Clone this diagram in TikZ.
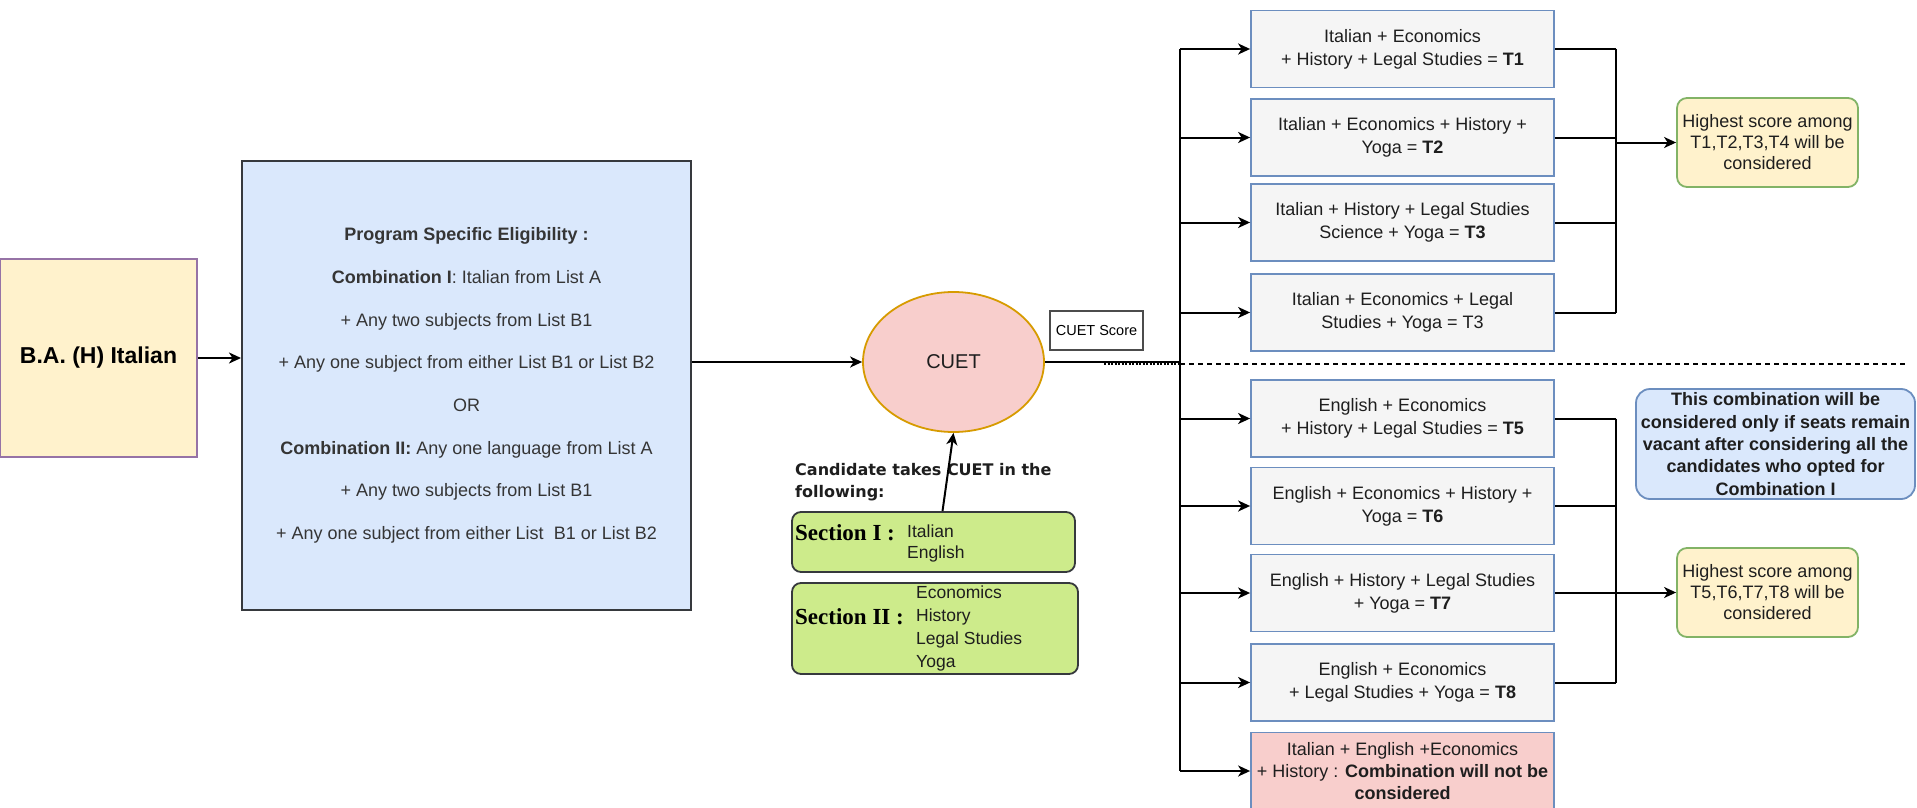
\documentclass[tikz,border=0pt]{standalone}
\usepackage{fontspec}
\setmainfont{Liberation Sans}
\newfontfamily\dvfont{DejaVu Sans}
\newfontfamily\serifbf{Liberation Serif}
\usetikzlibrary{arrows.meta,shapes.geometric}
\definecolor{yelfill}{HTML}{FFF2CC}
\definecolor{purpbord}{HTML}{9673A6}
\definecolor{bluefill}{HTML}{DAE8FC}
\definecolor{bluebord}{HTML}{6C8EBF}
\definecolor{darkbord}{HTML}{36393D}
\definecolor{redfill}{HTML}{F8CECC}
\definecolor{orbord}{HTML}{D79B00}
\definecolor{grayfill}{HTML}{F5F5F5}
\definecolor{greenbord}{HTML}{82B366}
\definecolor{limefill}{HTML}{CDEB8B}
\definecolor{txt}{HTML}{1E1E1E}
\tikzset{
  arr/.style={-{Stealth[length=12pt,width=11pt,inset=3.5pt]}, line width=2pt, draw=black},
  conn/.style={line width=2pt, draw=black},
  tbox/.style={draw=bluebord, fill=grayfill, line width=1.8pt, minimum width=303pt, minimum height=77pt, align=center, inner sep=0pt, text=txt, font=\fontsize{18}{23}\selectfont},
  hsbox/.style={draw=greenbord, fill=yelfill, line width=1.8pt, rounded corners=10pt, minimum width=181pt, minimum height=89pt, align=center, inner sep=0pt, text=txt, font=\fontsize{18}{21}\selectfont},
  secbox/.style={draw=darkbord, fill=limefill, line width=1.8pt, rounded corners=9pt, inner sep=0pt},
  itemtxt/.style={anchor=west, align=left, inner sep=0pt, text=txt},
  seclabel/.style={anchor=west, inner sep=0pt, font=\serifbf\bfseries\fontsize{23}{26}\selectfont},
}
\begin{document}
\begin{tikzpicture}[x=1pt,y=-1pt]
\useasboundingbox (0,0) rectangle (1917,808);
\fill[white] (0,0) rectangle (1917,808);

% left boxes
\node[draw=purpbord, fill=yelfill, line width=1.8pt, minimum width=197pt, minimum height=198pt, inner sep=0pt, font=\bfseries\fontsize{23}{27}\selectfont] (ba) at (98.5,358) {B.A. (H) Italian};

\node[draw=darkbord, fill=bluefill, line width=2pt, minimum width=449pt, minimum height=449pt, inner sep=0pt, align=center, text=txt!90, font=\fontsize{18}{42.7}\selectfont] (elig) at (466.5,385.5) {%
\textbf{Program Specific Eligibility :}\\
\textbf{Combination I}: Italian from List A\\
+ Any two subjects from List B1\\
+ Any one subject from either List B1 or List B2\\
OR\\
\textbf{Combination II:} Any one language from List A\\
+ Any two subjects from List B1\\
+ Any one subject from either List\ \ B1 or List B2};

% CUET
\node[ellipse, draw=orbord, fill=redfill, line width=1.8pt, minimum width=181pt, minimum height=140pt, inner sep=0pt, text=txt, font=\fontsize{20}{23}\selectfont] (cuet) at (953.5,362) {CUET};

\node[draw=black!70, fill=white, line width=1.5pt, minimum width=93pt, minimum height=39pt, inner sep=0pt, font=\fontsize{14.5}{17}\selectfont] (score) at (1096.5,330.5) {CUET Score};

% candidate text and sections
\node[anchor=west, align=left, inner sep=0pt, text=txt, font=\dvfont\bfseries\fontsize{16}{22}\selectfont] (cand) at (795,482) {Candidate takes CUET in the\\following:};

\node[secbox, minimum width=283pt, minimum height=60pt] (sec1) at (933.5,542) {};
\node[seclabel] (sec1l) at (795,533) {Section I :};
\node[itemtxt, font=\fontsize{17.5}{21}\selectfont] (sec1i) at (907,543.5) {Italian\\English};

\node[secbox, minimum width=286pt, minimum height=91pt] (sec2) at (935,628.5) {};
\node[seclabel] (sec2l) at (795,617) {Section II :};
\node[itemtxt, font=\fontsize{17.5}{23}\selectfont] (sec2i) at (916,628.5) {Economics\\History\\Legal Studies\\Yoga};

% combination boxes
\node[tbox] (t1) at (1402.5,49) {Italian + Economics\\+ History + Legal Studies = \textbf{T1}};
\node[tbox] (t2) at (1402.5,137.5) {Italian + Economics + History +\\Yoga = \textbf{T2}};
\node[tbox] (t3) at (1402.5,222.5) {Italian + History + Legal Studies\\Science + Yoga = \textbf{T3}};
\node[tbox] (t4) at (1402.5,312.5) {Italian + Economics + Legal\\Studies + Yoga = T3};
\node[tbox] (t5) at (1402.5,418.5) {English + Economics\\+ History + Legal Studies = \textbf{T5}};
\node[tbox] (t6) at (1402.5,506) {English + Economics + History +\\Yoga = \textbf{T6}};
\node[tbox] (t7) at (1402.5,593) {English + History + Legal Studies\\+ Yoga = \textbf{T7}};
\node[tbox] (t8) at (1402.5,682.5) {English + Economics\\+ Legal Studies + Yoga = \textbf{T8}};
\node[tbox, fill=redfill, font=\fontsize{18}{22}\selectfont] (t9) at (1402.5,771) {Italian + English +Economics\\+ History : \textbf{Combination will not be}\\\textbf{considered}};

% result boxes
\node[hsbox] (hs1) at (1767.5,142.5) {Highest score among\\T1,T2,T3,T4 will be\\considered};
\node[hsbox] (hs2) at (1767.5,592.5) {Highest score among\\T5,T6,T7,T8 will be\\considered};
\node[draw=bluebord, fill=bluefill, line width=1.8pt, rounded corners=14pt, minimum width=279pt, minimum height=110pt, inner sep=0pt, align=center, text=txt, font=\bfseries\fontsize{18}{22.3}\selectfont] (note) at (1775.5,444) {This combination will be\\considered only if seats remain\\vacant after considering all the\\candidates who opted for\\Combination I};

% connectors
\draw[arr] (ba.east) -- (ba.east -| elig.west);
\draw[arr] (elig.east |- cuet.west) -- (cuet.west);
\draw[arr] ([xshift=9pt]sec1.north) -- (cuet.south);

\coordinate (vtop) at (1180,49);
\coordinate (vbot) at (1180,771);
\draw[conn] (cuet.east) -- (cuet.east -| vtop);
\draw[conn] (vtop) -- (vbot);
\foreach \t in {t1,t2,t3,t4,t5,t6,t7,t8,t9}{
  \draw[arr] (\t.west -| vtop) -- (\t.west);
}

\coordinate (rbus) at (1616,0);
\foreach \t in {t1,t2,t3,t4,t5,t6,t7,t8}{
  \draw[conn] (\t.east) -- (\t.east -| rbus);
}
\draw[conn] (t1.east -| rbus) -- (t4.east -| rbus);
\draw[conn] (t5.east -| rbus) -- (t8.east -| rbus);
\draw[arr] (hs1.west -| rbus) -- (hs1.west);
\draw[arr] (hs2.west -| rbus) -- (hs2.west);

% separator
\coordinate (d0) at (1104,364);
\coordinate (d1) at (1180,364);
\coordinate (d2) at (1907,364);
\draw[line width=1.8pt, dash pattern=on 2pt off 1.5pt] (d0) -- (d1);
\draw[line width=1.5pt, dash pattern=on 5pt off 4pt] (d1) -- (d2);
\end{tikzpicture}
\end{document}
